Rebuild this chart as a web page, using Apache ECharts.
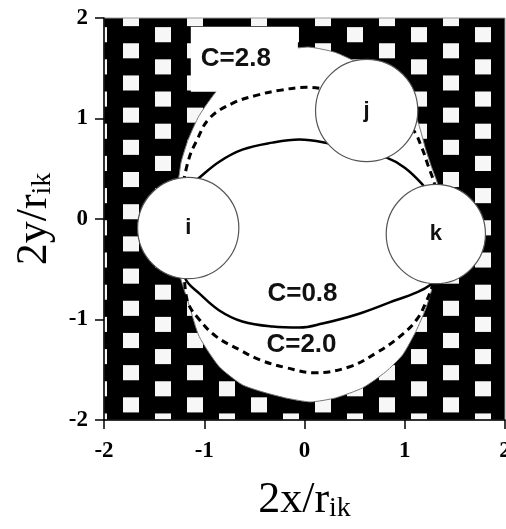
<!DOCTYPE html>
<html>
<head>
<meta charset="utf-8">
<title>Hill region C=0.8 / 2.0 / 2.8</title>
<script src="https://cdn.jsdelivr.net/npm/echarts@6/dist/echarts.min.js"></script>
<style>
html,body{margin:0;padding:0;background:#fff;}
#main{width:506px;height:529px;}
</style>
</head>
<body>
<div id="main"></div>
<script>
var myChart;

// axis ticks
var ticks=[-2,-1,0,1,2];

// outer boundary of the allowed (white) region, C=2.8
var outerX=[-1.30,-1.25,-1.23,-1.16,-1.05,-0.87,-0.65,-0.40,-0.15,0.05,0.30,0.52,0.80,1.05,1.14,1.21,1.27,1.33,1.37,1.28,1.21,1.11,0.98,0.81,0.58,0.31,0.06,-0.19,-0.42,-0.62,-0.85,-1.05,-1.15,-1.23,-1.33];
var outerY=[0.19,0.44,0.57,0.79,1.03,1.28,1.48,1.62,1.69,1.71,1.66,1.56,1.38,1.16,0.94,0.69,0.51,0.34,-0.11,-0.66,-0.89,-1.12,-1.35,-1.52,-1.68,-1.78,-1.82,-1.78,-1.72,-1.65,-1.47,-1.17,-0.86,-0.61,-0.21];

// C=2.0 dashed curve, upper and lower branch
var c20upX=[-1.21,-1.15,-1.08,-0.95,-0.72,-0.48,-0.25,0.02,0.15,0.55,0.90,1.08,1.17,1.23,1.30,1.31];
var c20upY=[0.36,0.61,0.77,1.00,1.15,1.23,1.28,1.31,1.30,1.20,1.03,0.89,0.71,0.54,0.34,0.25];
var c20lowX=[-1.20,-1.17,-1.05,-0.88,-0.65,-0.45,-0.18,0.10,0.45,0.72,0.95,1.12,1.22,1.27,1.30];
var c20lowY=[-0.51,-0.81,-1.00,-1.17,-1.30,-1.40,-1.48,-1.53,-1.47,-1.33,-1.17,-1.00,-0.81,-0.68,-0.56];

// C=0.8 solid curve, upper and lower branch
var c08upX=[-1.13,-1.05,-0.85,-0.62,-0.32,-0.05,0.25,0.55,0.82,1.00,1.18,1.25];
var c08upY=[0.34,0.41,0.57,0.69,0.76,0.79,0.75,0.68,0.61,0.51,0.34,0.24];
var c08lowX=[-1.20,-1.18,-1.05,-0.85,-0.62,-0.32,-0.05,0.18,0.52,0.85,1.12,1.25,1.30];
var c08lowY=[-0.51,-0.61,-0.74,-0.91,-1.02,-1.07,-1.08,-1.04,-0.95,-0.83,-0.73,-0.66,-0.59];

// the three bodies
var bodyName=['i','j','k'];
var bodyX=[-1.16,0.62,1.31];
var bodyY=[-0.09,1.08,-0.15];
var bodyR=[0.505,0.51,0.495];

// curve labels
var curveName=['C=2.8','C=0.8','C=2.0'];
var curveX=[-0.60,-0.02,-0.03];
var curveY=[1.59,-0.74,-1.25];

function zip(xs,ys){
	return xs.map(function(x,i){return [x,ys[i]];});
}

/**
 * 禁止区域的方格底纹
 */
function makePattern(){
	var c=document.createElement('canvas');
	c.width=64;c.height=32;
	var ctx=c.getContext('2d');
	ctx.fillStyle='#000';
	ctx.fillRect(0,0,64,32);
	ctx.fillStyle='#f7f7f7';
	ctx.fillRect(0,0,16,15);
	ctx.fillRect(32,16,16,15);
	return {image:c,repeat:'repeat',x:59,y:11,scaleY:1.006};
}

function lineSeries(data,dashed){
	return {
		type:'line',
		data:data,
		smooth:0.4,
		symbol:'none',
		z:3,
		silent:true,
		lineStyle:{color:'#000',width:dashed?3:2.5,type:dashed?[7,5]:'solid'}
	};
}

function showChart(){
	var dom=document.getElementById('main');
	myChart=echarts.init(dom,null,{renderer:'canvas'});
	var serif='"Liberation Serif","Times New Roman",serif';
	var sans='"Liberation Sans",Arial,sans-serif';
	var axisCommon={
		type:'value',
		min:ticks[0],
		max:ticks[ticks.length-1],
		interval:1,
		splitLine:{show:false},
		axisLine:{show:true,onZero:false,lineStyle:{color:'#000',width:1.5}},
		axisTick:{show:true,inside:false,length:9,lineStyle:{color:'#000',width:1.5}},
		nameLocation:'middle',
		nameTextStyle:{
			rich:{
				m:{fontFamily:serif,fontSize:44,color:'#000'},
				s:{fontFamily:serif,fontSize:28,color:'#000',padding:[18,0,0,0]}
			}
		}
	};
	var xAxis=echarts.util.merge({
		name:'{m|2x/r}{s|ik}',
		nameGap:57,
		axisLabel:{margin:20,color:'#000',fontFamily:serif,fontWeight:'bold',fontSize:23}
	},axisCommon);
	var yAxis=echarts.util.merge({
		name:'{m|2y/r}{s|ik}',
		nameGap:47,
		axisLabel:{margin:16,color:'#000',fontFamily:serif,fontWeight:'bold',fontSize:23}
	},axisCommon);

	var option={
		animation:false,
		grid:{
			left:104,top:18,right:1,bottom:109,
			show:true,
			backgroundColor:makePattern(),
			borderColor:'#999',borderWidth:1,
			containLabel:false,
			outerBoundsMode:'none'
		},
		xAxis:xAxis,
		yAxis:yAxis,
		series:[
			// allowed region for C=2.8
			{
				type:'custom',
				z:1,
				silent:true,
				clip:true,
				data:zip(outerX,outerY),
				renderItem:function(params,api){
					if(params.dataIndex!==0){return;}
					var pts=outerX.map(function(x,i){return api.coord([x,outerY[i]]);});
					return {
						type:'polygon',
						shape:{points:pts,smooth:0.2},
						style:{fill:'#fff',stroke:'#777',lineWidth:1}
					};
				}
			},
			// label box C=2.8
			{
				type:'scatter',
				z:2,
				silent:true,
				symbolSize:0,
				itemStyle:{opacity:1},
				data:[[curveX[0],curveY[0]]],
				label:{
					show:true,position:'inside',
					formatter:curveName[0],
					fontFamily:sans,fontWeight:'bold',fontSize:26,color:'#111',
					backgroundColor:'#fff',
					padding:[19,27,20,10]
				}
			},
			lineSeries(zip(c20upX,c20upY),true),
			lineSeries(zip(c20lowX,c20lowY),true),
			lineSeries(zip(c08upX,c08upY),false),
			lineSeries(zip(c08lowX,c08lowY),false),
			// bodies i, j, k
			{
				type:'custom',
				z:4,
				silent:true,
				data:bodyX.map(function(x,i){return [x,bodyY[i],bodyR[i]];}),
				renderItem:function(params,api){
					var c=api.coord([api.value(0),api.value(1)]);
					var r=api.size([api.value(2),api.value(2)])[0];
					return {
						type:'group',
						children:[
							{type:'circle',shape:{cx:c[0],cy:c[1],r:r},style:{fill:'#fff',stroke:'#555',lineWidth:1.2}},
							{type:'text',style:{text:bodyName[params.dataIndex],x:c[0],y:c[1],align:'center',verticalAlign:'middle',font:'bold 22px '+sans,fill:'#111'}}
						]
					};
				}
			},
			// labels C=0.8, C=2.0
			{
				type:'scatter',
				z:5,
				silent:true,
				symbolSize:0,
				itemStyle:{opacity:1},
				data:[[curveX[1],curveY[1],curveName[1]],[curveX[2],curveY[2],curveName[2]]],
				label:{
					show:true,position:'inside',
					formatter:function(p){return p.value[2];},
					fontFamily:sans,fontWeight:'bold',fontSize:26,color:'#111'
				}
			}
		]
	};
	myChart.setOption(option);
}

showChart();
</script>
</body>
</html>
